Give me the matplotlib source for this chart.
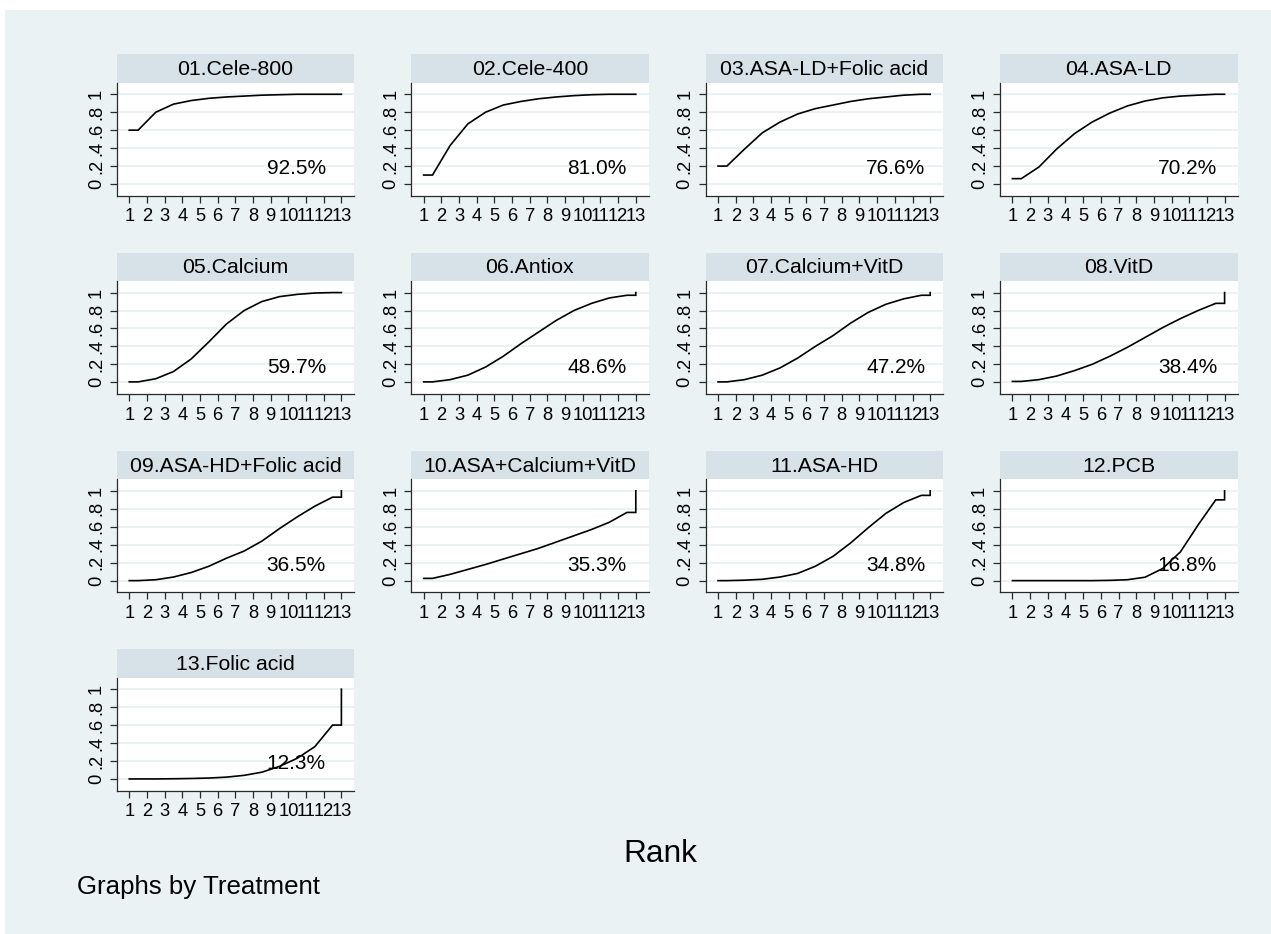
import matplotlib
matplotlib.use("Agg")
import matplotlib.pyplot as plt
from matplotlib.patches import Rectangle

plt.rcParams['font.family'] = ['Liberation Sans', 'DejaVu Sans']

# ---------------- data ----------------
ranks = list(range(1, 14))
treatments = ["01.Cele-800", "02.Cele-400", "03.ASA-LD+Folic acid", "04.ASA-LD",
              "05.Calcium", "06.Antiox", "07.Calcium+VitD", "08.VitD",
              "09.ASA-HD+Folic acid", "10.ASA+Calcium+VitD", "11.ASA-HD", "12.PCB",
              "13.Folic acid"]
sucra_labels = ["92.5%", "81.0%", "76.6%", "70.2%", "59.7%", "48.6%", "47.2%", "38.4%",
                "36.5%", "35.3%", "34.8%", "16.8%", "12.3%"]

# cumulative probability of being ranked <= k, k = 1..12 (rank 13 is always 1)
cum_01 = [0.60, 0.80, 0.89, 0.93, 0.955, 0.97, 0.98, 0.99, 0.995, 1.0, 1.0, 1.0]
cum_02 = [0.10, 0.43, 0.67, 0.80, 0.88, 0.92, 0.95, 0.97, 0.985, 0.995, 1.0, 1.0]
cum_03 = [0.20, 0.39, 0.57, 0.69, 0.78, 0.84, 0.88, 0.92, 0.95, 0.97, 0.99, 1.0]
cum_04 = [0.06, 0.19, 0.39, 0.56, 0.69, 0.79, 0.87, 0.925, 0.96, 0.98, 0.99, 1.0]
cum_05 = [0.005, 0.04, 0.12, 0.26, 0.45, 0.65, 0.80, 0.90, 0.955, 0.98, 0.995, 1.0]
cum_06 = [0.005, 0.03, 0.08, 0.17, 0.29, 0.43, 0.56, 0.69, 0.80, 0.88, 0.94, 0.97]
cum_07 = [0.005, 0.03, 0.08, 0.16, 0.27, 0.40, 0.52, 0.66, 0.78, 0.87, 0.93, 0.97]
cum_08 = [0.01, 0.03, 0.07, 0.13, 0.20, 0.29, 0.39, 0.50, 0.61, 0.71, 0.80, 0.88]
cum_09 = [0.0, 0.01, 0.04, 0.09, 0.16, 0.25, 0.33, 0.44, 0.58, 0.71, 0.83, 0.93]
cum_10 = [0.025, 0.07, 0.125, 0.18, 0.24, 0.30, 0.36, 0.43, 0.50, 0.57, 0.65, 0.76]
cum_11 = [0.0, 0.005, 0.015, 0.04, 0.08, 0.16, 0.27, 0.42, 0.59, 0.75, 0.87, 0.95]
cum_12 = [0.0, 0.0, 0.0, 0.0, 0.0, 0.003, 0.01, 0.038, 0.135, 0.32, 0.62, 0.90]
cum_13 = [0.0, 0.0, 0.002, 0.005, 0.01, 0.02, 0.04, 0.075, 0.14, 0.23, 0.36, 0.60]
cumulative = [cum_01, cum_02, cum_03, cum_04, cum_05, cum_06, cum_07,
              cum_08, cum_09, cum_10, cum_11, cum_12, cum_13]
yticks = [0, 0.2, 0.4, 0.6, 0.8, 1.0]
ytick_labels = ["0", ".2", ".4", ".6", ".8", "1"]

# ---------------- style ----------------
W, H = 1271, 934
BG = "#eaf2f3"
HDR = "#d6e2e7"
GRID = "#eaf2f3"
AXC = "#2a2a2a"

fig = plt.figure(figsize=(W / 100, H / 100), dpi=100, facecolor="white")
fig.patches.append(Rectangle((5 / W, 0), 1 - 5 / W, 1 - 10 / H, transform=fig.transFigure,
                             facecolor=BG, edgecolor="none", zorder=-10))


def px_axes(l, t, w, h):
    return fig.add_axes([l / W, 1 - (t + h) / H, w / W, h / H])


col_left0, col_step = 116.7, 294.4
row_top0, row_step = 54.3, 198.3
panel_w, hdr_h, ax_h = 237.6, 28.4, 113.0
pct_x = [10.45, 10.8, 11.05, 10.9]

for i, name in enumerate(treatments):
    r, c = divmod(i, 4)
    left = col_left0 + c * col_step
    top = row_top0 + r * row_step

    # header strip
    hax = px_axes(left, top, panel_w, hdr_h)
    hax.set_facecolor(HDR)
    hax.set_xticks([]); hax.set_yticks([])
    for s in hax.spines.values():
        s.set_visible(False)
    hax.text(0.5, 7.7 / hdr_h, name, ha="center", va="baseline", fontsize=15.3,
             color="black", transform=hax.transAxes)

    # plot
    ax = px_axes(left, top + hdr_h, panel_w, ax_h)
    ax.set_facecolor("white")
    cum = cumulative[i]
    xs = [ranks[0]] + [k + 0.5 for k in ranks[:-1]] + [ranks[-1], ranks[-1]]
    ys = [cum[0]] + list(cum) + [cum[-1], 1.0]
    ax.plot(xs, ys, color="black", lw=1.2, solid_joinstyle="miter", zorder=3)

    ax.set_xlim(0.29, 13.73)
    ax.set_ylim(-0.13, 1.129)
    ax.set_xticks(ranks)
    ax.set_xticklabels([str(k) for k in ranks])
    ax.set_yticks(yticks)
    ax.set_yticklabels(ytick_labels)
    ax.yaxis.grid(True, color=GRID, lw=1.4)
    ax.set_axisbelow(True)
    for s in ("top", "right"):
        ax.spines[s].set_visible(False)
    for s in ("left", "bottom"):
        ax.spines[s].set_color(AXC)
        ax.spines[s].set_linewidth(0.9)
    ax.tick_params(axis="both", length=5, width=0.9, color=AXC, labelsize=13.2,
                   labelcolor="black")
    ax.tick_params(axis="x", pad=4.0)
    ax.tick_params(axis="y", pad=3.5, labelrotation=90)
    for lab in ax.get_yticklabels():
        lab.set_va("center")

    ax.text(pct_x[c], 0.108, sucra_labels[i], ha="center", va="baseline",
            fontsize=15, color="black", zorder=4)

fig.text(660 / W, 1 - 861.7 / H, "Rank", ha="center", va="baseline", fontsize=22.8,
         color="black")
fig.text(76.7 / W, 1 - 894.3 / H, "Graphs by Treatment", ha="left", va="baseline",
         fontsize=18.6, color="black")

fig.savefig("out.png", dpi=100, facecolor=fig.get_facecolor())
